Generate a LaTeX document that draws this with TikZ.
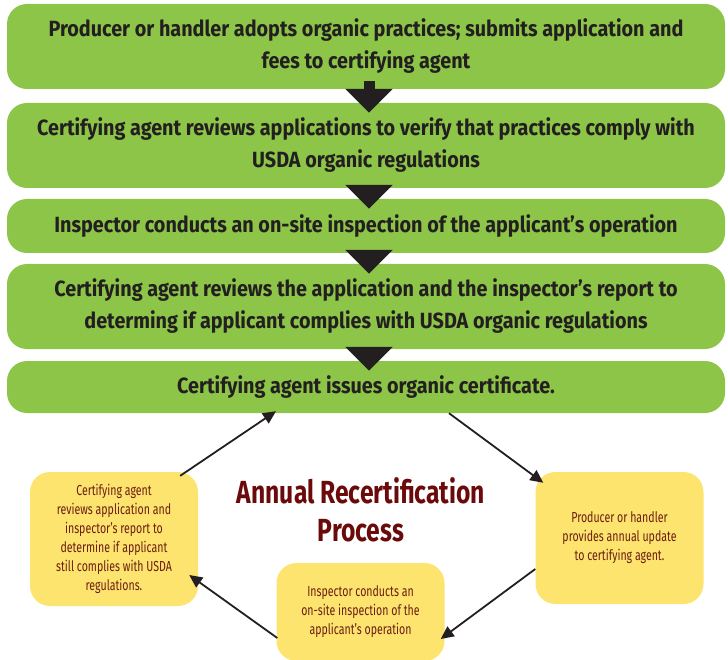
\documentclass[tikz,border=0pt]{standalone}
\usepackage{fontspec}
\setmainfont{Fira Sans}[FakeStretch=0.8]
\newfontfamily\stepfont{Fira Sans}[FakeStretch=0.9]
\newfontfamily\notefont{Fira Sans}[FakeStretch=0.77]
\newfontfamily\tagfont{Fira Sans}[FakeStretch=0.73]
\usepackage{xcolor}
\usetikzlibrary{arrows.meta}
\definecolor{leaf}{HTML}{8CC547}
\definecolor{butter}{HTML}{FDE46E}
\definecolor{maroon}{HTML}{6B0A0A}
\definecolor{rust}{HTML}{6B1D12}
\definecolor{ink}{HTML}{231F20}

\begin{document}
\begin{tikzpicture}[x=1pt, y=-1pt,
    greenbox/.style={fill=leaf, rounded corners=20pt, inner sep=0pt, minimum width=718pt, align=center, text=ink, font=\stepfont\fontsize{22}{32}\selectfont\bfseries},
    yellowbox/.style={fill=butter, rounded corners=20pt, inner sep=0pt, minimum width=168pt, align=center, text=rust, font=\tagfont\fontsize{14.5}{19}\selectfont},
    bigdown/.style={draw=ink, line width=11pt, -{Triangle[length=24pt, width=46pt]}, shorten <=-8pt, shorten >=-10pt},
    looparrow/.style={draw=ink, line width=1.8pt, -{Triangle[length=13pt, width=12pt]}}]
                    \useasboundingbox (0,0) rectangle (728,660);

                    % Initial certification steps
                    \node[greenbox, minimum height=85pt] (Apply)   at (366,46.5)  {Producer or handler adopts organic practices; submits application and\\fees to certifying agent};
                    \node[greenbox, minimum height=85pt] (Review)  at (366,145.5) {Certifying agent reviews applications to verify that practices comply with\\USDA organic regulations};
                    \node[greenbox, minimum height=54pt] (Inspect) at (366,226)   {Inspector conducts an on-site inspection of the applicant’s operation};
                    \node[greenbox, minimum height=85pt] (Decide)  at (366,306.5) {Certifying agent reviews the application and the inspector’s report to\\determing if applicant complies with USDA organic regulations};
                    \node[greenbox, minimum height=52pt] (Issue)   at (366,387)   {Certifying agent issues organic certificate.};

                    % Arrows between steps
                    \draw[bigdown] ([xshift=3pt]Apply.south)   -- ([xshift=3pt]Review.north);
                    \draw[bigdown] ([xshift=3pt]Review.south)  -- ([xshift=3pt]Inspect.north);
                    \draw[bigdown] ([xshift=3pt]Inspect.south) -- ([xshift=3pt]Decide.north);
                    \draw[bigdown] ([xshift=3pt]Decide.south)  -- ([xshift=3pt]Issue.north);

                    % Annual recertification loop
                    \node[font=\notefont\fontsize{32}{38}\selectfont\bfseries, text=maroon, align=center] (Title) at (361,510) {Annual Recertification\\Process};
                    \node[yellowbox, minimum height=134pt] (Recheck) at (114,539)   {Certifying agent\\reviews application and\\inspector’s report to\\determine if applicant\\still complies with USDA\\regulations.};
                    \node[yellowbox, minimum height=132pt] (Update)  at (619.5,538) {Producer or handler\\provides annual update\\to certifying agent.};
                    \node[yellowbox, minimum height=98pt]  (OnSite)  at (360.5,612) {Inspector conducts an\\on-site inspection of the\\applicant’s operation};

                    \draw[looparrow] ([xshift=83pt]Issue.south) -- ([shift={(8,11)}]Update.north west);
                    \draw[looparrow] ([shift={(0,31)}]Update.west) -- ([shift={(-4,27)}]OnSite.east);
                    \draw[looparrow] ([shift={(1,26)}]OnSite.west) -- ([shift={(-9,36)}]Recheck.east);
                    \draw[looparrow] ([shift={(-18,4)}]Recheck.north east) -- ([shift={(-90,-2)}]Issue.south);
                \end{tikzpicture}
\end{document}
